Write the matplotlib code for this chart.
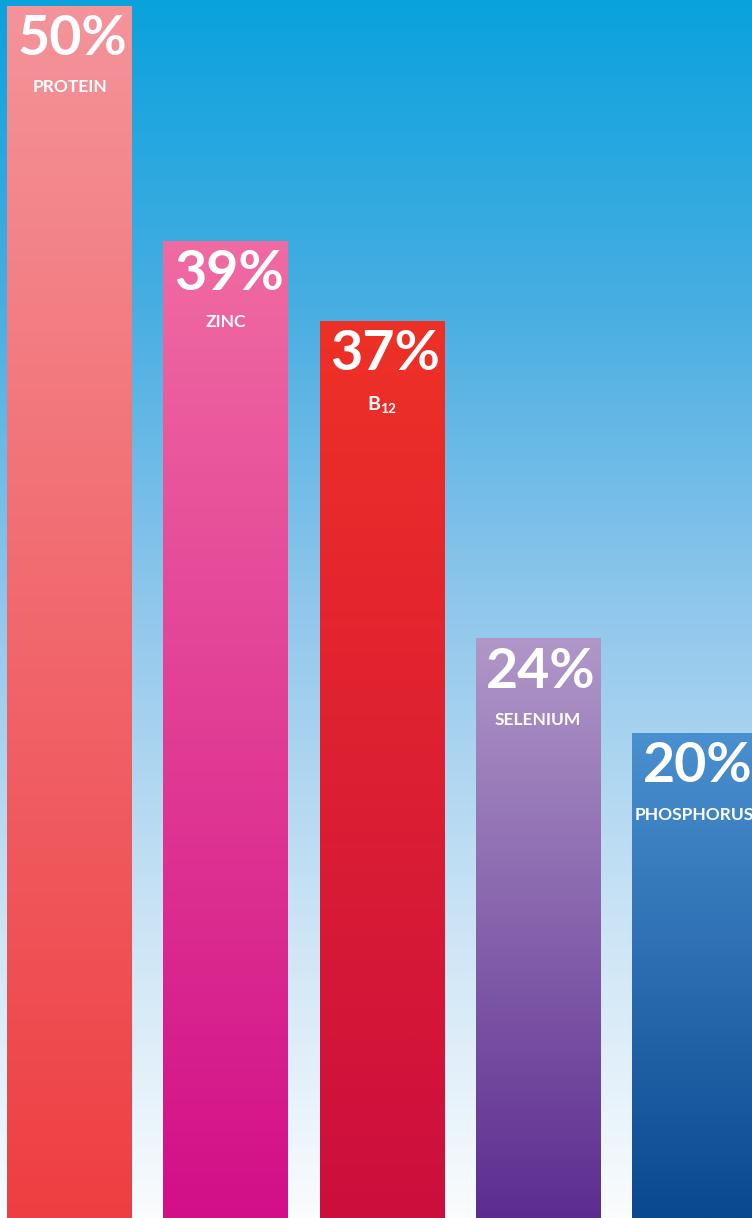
import numpy as np
import matplotlib
matplotlib.use("Agg")
import matplotlib.pyplot as plt
from matplotlib.colors import LinearSegmentedColormap

# Data
nutrients = ["PROTEIN", "ZINC", "B12", "SELENIUM", "PHOSPHORUS"]
percent_labels = ["50%", "39%", "37%", "24%", "20%"]
bar_heights = [50, 40.3, 37, 23.9, 20]

# top colour, bottom colour of each bar
bar_top_colors = ["#f4949a", "#f06ba2", "#ee3126", "#b097c8", "#4a90cf"]
bar_bottom_colors = ["#ee3e42", "#d20f88", "#cc0e3e", "#5c2d90", "#0a4890"]

bg_stops = [(0.0, "#fafcfe"), (0.25, "#c9e3f5"), (0.5, "#90c7ec"),
            (0.75, "#48aee2"), (1.0, "#0aa2dd")]

FONT = ["Lato", "DejaVu Sans"]

plt.rcParams["mathtext.fontset"] = "custom"
plt.rcParams["mathtext.bf"] = "Lato:bold"
plt.rcParams["mathtext.rm"] = "Lato:bold"

fig = plt.figure(figsize=(7.52, 12.18), dpi=100)
ax = fig.add_axes([0, 0, 1, 1])
ax.set_xlim(-0.445, 4.368)
ax.set_ylim(0, 50.23)
ax.axis("off")

# background gradient
bg_cmap = LinearSegmentedColormap.from_list("bg", bg_stops)
grad = np.linspace(0, 1, 512).reshape(-1, 1)
ax.imshow(grad, cmap=bg_cmap, origin="lower", aspect="auto",
          extent=[-0.445, 4.368, 0, 50.23], zorder=0)

x = np.arange(len(nutrients))
bars = ax.bar(x, bar_heights, width=0.8, color="none", zorder=1)

for i, bar in enumerate(bars):
    cmap = LinearSegmentedColormap.from_list(
        "b%d" % i, [bar_bottom_colors[i], bar_top_colors[i]])
    x0 = bar.get_x()
    h = bar.get_height()
    im = ax.imshow(grad, cmap=cmap, origin="lower", aspect="auto",
                   extent=[x0, x0 + bar.get_width(), 0, h], zorder=2)
    im.set_clip_path(bar)

    # labels inside the bar top
    ax.annotate(percent_labels[i], (x[i], h), xytext=(2, -6),
                textcoords="offset points", ha="center", va="top",
                color="white", fontsize=40, fontweight="bold",
                family=FONT, zorder=3)
    if nutrients[i] == "B12":
        name, fs = r"$\mathbf{B_{12}}$", 14
    else:
        name, fs = nutrients[i], 12.5
    ax.annotate(name, (x[i], h), xytext=(0, -53),
                textcoords="offset points", ha="center", va="top",
                color="white", fontsize=fs, fontweight="bold",
                family=FONT, zorder=3)

fig.savefig("out.png", dpi=100)
